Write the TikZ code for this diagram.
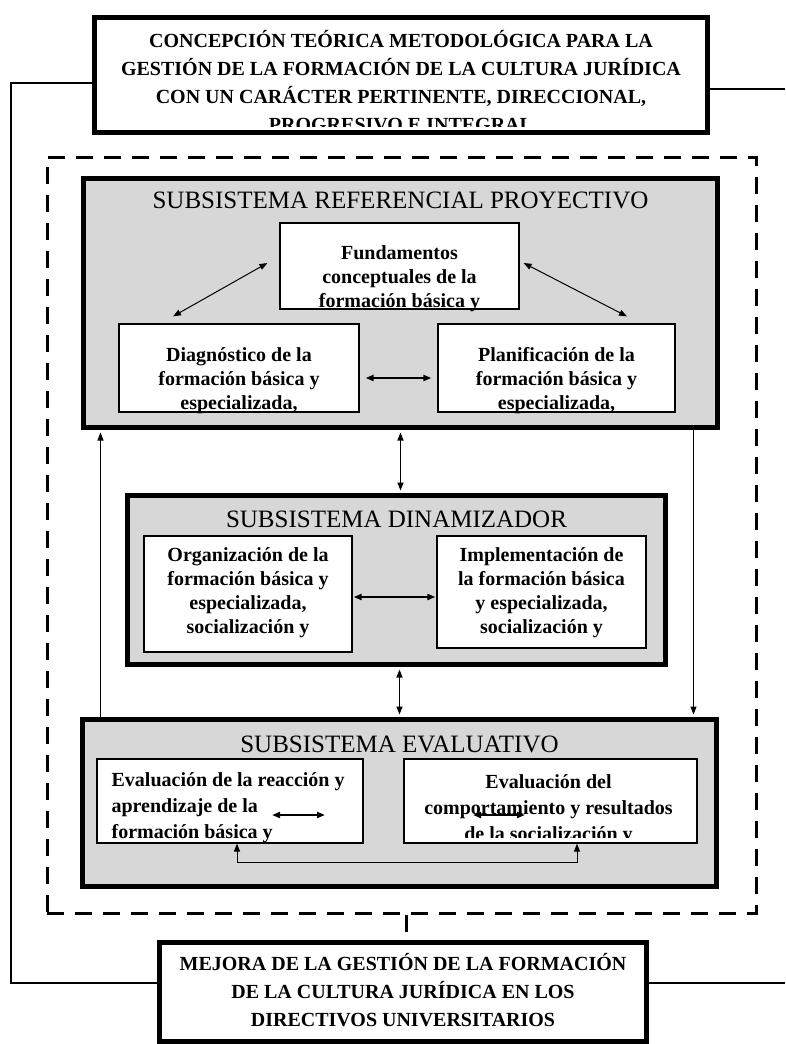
\documentclass[tikz,border=0pt]{standalone}
\usepackage{fontspec}
\setmainfont{Liberation Serif}
\usepackage{xcolor}
\usepackage{tikz}
\usetikzlibrary{arrows.meta}

\definecolor{grisclaro}{RGB}{215,215,215}

\tikzset{
  grueso/.style={draw=black,line width=5pt,inner sep=0pt},
  subsis/.style={grueso,fill=grisclaro},
  caja/.style={draw=black,line width=1.2pt,fill=white,inner sep=0pt},
  negrita/.style={font=\bfseries\fontsize{20}{28}\selectfont,align=center,inner sep=0pt},
  textocaja/.style={font=\bfseries\fontsize{20}{24}\selectfont,align=center,inner sep=0pt,anchor=north},
  textoeval/.style={font=\bfseries\fontsize{20}{26}\selectfont,inner sep=0pt},
  titular/.style={font=\fontsize{25}{30}\selectfont,inner sep=0pt},
  linea/.style={line width=2.5pt},
  flecha/.style={line width=1pt},
  flechagruesa/.style={line width=2pt},
  discontinua/.style={line width=3pt,dash pattern=on 17pt off 11pt}
}

\begin{document}
\begin{tikzpicture}[x=1pt,y=-1pt,>={Triangle[length=8pt,width=6pt]}]
  \def \AN {785}
  \def \AL {1044}
  \useasboundingbox (0,0) rectangle (\AN,\AL);

  \node[grueso,fill=white,minimum width=613pt,minimum height=115pt] (concepcion) at (401,75) {};
  \begin{scope}
    \clip ([shift={(3pt,-3pt)}]concepcion.north west) rectangle ([shift={(-3pt,8.5pt)}]concepcion.south east);
    \node[negrita,anchor=north] (concepcionT) at ([yshift=-15pt]concepcion.north)
    {CONCEPCIÓN TEÓRICA METODOLÓGICA PARA LA\\GESTIÓN DE LA FORMACIÓN DE LA CULTURA JURÍDICA\\CON UN CARÁCTER PERTINENTE, DIRECCIONAL,\\PROGRESIVO E INTEGRAL};
  \end{scope}

  \node[grueso,fill=white,minimum width=487pt,minimum height=99pt] (mejora) at (403,992) {};
  \node[negrita,anchor=north] (mejoraT) at ([yshift=-13.5pt]mejora.north)
  {MEJORA DE LA GESTIÓN DE LA FORMACIÓN\\DE LA CULTURA JURÍDICA EN LOS\\DIRECTIVOS UNIVERSITARIOS};

  \node[draw=black,discontinua,minimum width=709pt,minimum height=756pt] (marco) at (401.5,535) {};

  \node[subsis,minimum width=634pt,minimum height=249pt] (referencial) at (400.5,303) {};
  \node[subsis,minimum width=538pt,minimum height=169pt] (dinamizador) at (396.5,580) {};
  \node[subsis,minimum width=634pt,minimum height=167pt] (evaluativo) at (399.5,803) {};

  \node[titular] (tReferencial) at ([yshift=-24.5pt]referencial.north) {SUBSISTEMA REFERENCIAL PROYECTIVO};
  \node[titular] (tDinamizador) at ([yshift=-26.5pt]dinamizador.north) {SUBSISTEMA DINAMIZADOR};
  \node[titular] (tEvaluativo) at ([yshift=-27.5pt]evaluativo.north) {SUBSISTEMA EVALUATIVO};

  \node[caja,minimum width=239pt,minimum height=86pt] (fundamentos) at (399.5,266) {};
  \node[textocaja] (fundamentosT) at ([yshift=-23pt]fundamentos.north)
  {Fundamentos\\conceptuales de la\\formación básica y};
  \node[caja,minimum width=240pt,minimum height=88pt] (diagnostico) at (239,368) {};
  \node[textocaja] (diagnosticoT) at ([yshift=-24pt]diagnostico.north)
  {Diagnóstico de la\\formación básica y\\especializada,};
  \node[caja,minimum width=237pt,minimum height=88pt] (planificacion) at (556.5,368) {};
  \node[textocaja] (planificacionT) at ([yshift=-24pt]planificacion.north)
  {Planificación de la\\formación básica y\\especializada,};

  \node[caja,minimum width=208pt,minimum height=116pt] (organizacion) at (248,594) {};
  \node[textocaja] (organizacionT) at ([yshift=-12pt]organizacion.north)
  {Organización de la\\formación básica y\\especializada,\\socialización y};
  \node[caja,minimum width=209pt,minimum height=112pt] (implementacion) at (541.5,592) {};
  \node[textocaja] (implementacionT) at ([yshift=-12pt]implementacion.north)
  {Implementación de\\la formación básica\\y especializada,\\socialización y};

  \node[caja,minimum width=266pt,minimum height=84pt] (reaccion) at (230,801) {};
  \begin{scope}
    \clip ([shift={(1pt,-1pt)}]reaccion.north west) rectangle ([shift={(-1pt,1pt)}]reaccion.south east);
    \node[textoeval,anchor=north west,align=left] (reaccionT) at ([shift={(15pt,-14pt)}]reaccion.north west)
    {Evaluación de la reacción y\\aprendizaje de la\\formación básica y};
  \end{scope}
  \node[caja,minimum width=293pt,minimum height=84pt] (comportamiento) at (550.5,801) {};
  \begin{scope}
    \clip ([shift={(1pt,-1pt)}]comportamiento.north west) rectangle ([shift={(-1pt,6pt)}]comportamiento.south east);
    \node[textoeval,anchor=north,align=center] (comportamientoT) at ([shift={(-2pt,-16pt)}]comportamiento.north)
    {Evaluación del\\comportamiento y resultados\\de la socialización y};
  \end{scope}

  \draw[flecha,<->] ([shift={(-12pt,3pt)}]fundamentos.west) -- ([shift={(-66pt,7pt)}]diagnostico.north);
  \draw[flecha,<->] ([shift={(4pt,3pt)}]fundamentos.east) -- ([shift={(70.5pt,7pt)}]planificacion.north);
  \draw[flechagruesa,<->] ([shift={(6pt,-10pt)}]diagnostico.east) -- ([shift={(-6pt,-10pt)}]planificacion.west);
  \draw[flechagruesa,<->] ([shift={(1pt,-3pt)}]organizacion.east) -- ([shift={(-1pt,-5pt)}]implementacion.west);
  \draw[flechagruesa,<->] ([shift={(42pt,-14pt)}]reaccion.center) -- ([shift={(95pt,-14pt)}]reaccion.center);
  \draw[flechagruesa,<->] ([shift={(-77.5pt,-14pt)}]comportamiento.center) -- ([shift={(-25.5pt,-14pt)}]comportamiento.center);
  \draw[flecha,<->] ([xshift=7pt]reaccion.south) -- ++(0,19) -| ([xshift=26.5pt]comportamiento.south);

  \draw[flecha,<->,line width=1.4pt,shorten <=2.5pt,shorten >=2.5pt] (referencial.south) -- (referencial.south |- dinamizador.north);
  \draw[flecha,<->,line width=1.4pt,shorten <=2.5pt,shorten >=2.5pt] (evaluativo.north |- dinamizador.south) -- (evaluativo.north);
  \draw[flecha,->,shorten >=2.5pt] ([xshift=20.5pt]evaluativo.north west) -- ([xshift=20.5pt]evaluativo.north west |- referencial.south);
  \draw[flecha,->,shorten >=2.5pt] ([xshift=-26.5pt]referencial.south east) -- ([xshift=-26.5pt]referencial.south east |- evaluativo.north);

  \coordinate (esqSup) at (11,83);
  \coordinate (esqInf) at (11,983);
  \coordinate (bordeSup) at (\AN,89);
  \coordinate (bordeInf) at (\AN,983);
  \draw[linea] ([yshift=-8pt]concepcion.west) -- (esqSup) -- (esqInf) -- (esqInf -| mejora.west);
  \draw[linea] (concepcion.east |- bordeSup) -- (bordeSup);
  \draw[linea] (mejora.east |- bordeInf) -- (bordeInf);
  \draw[discontinua] ([xshift=4.5pt]marco.south) -- ([xshift=4.5pt]marco.south |- mejora.north);

\end{tikzpicture}
\end{document}
